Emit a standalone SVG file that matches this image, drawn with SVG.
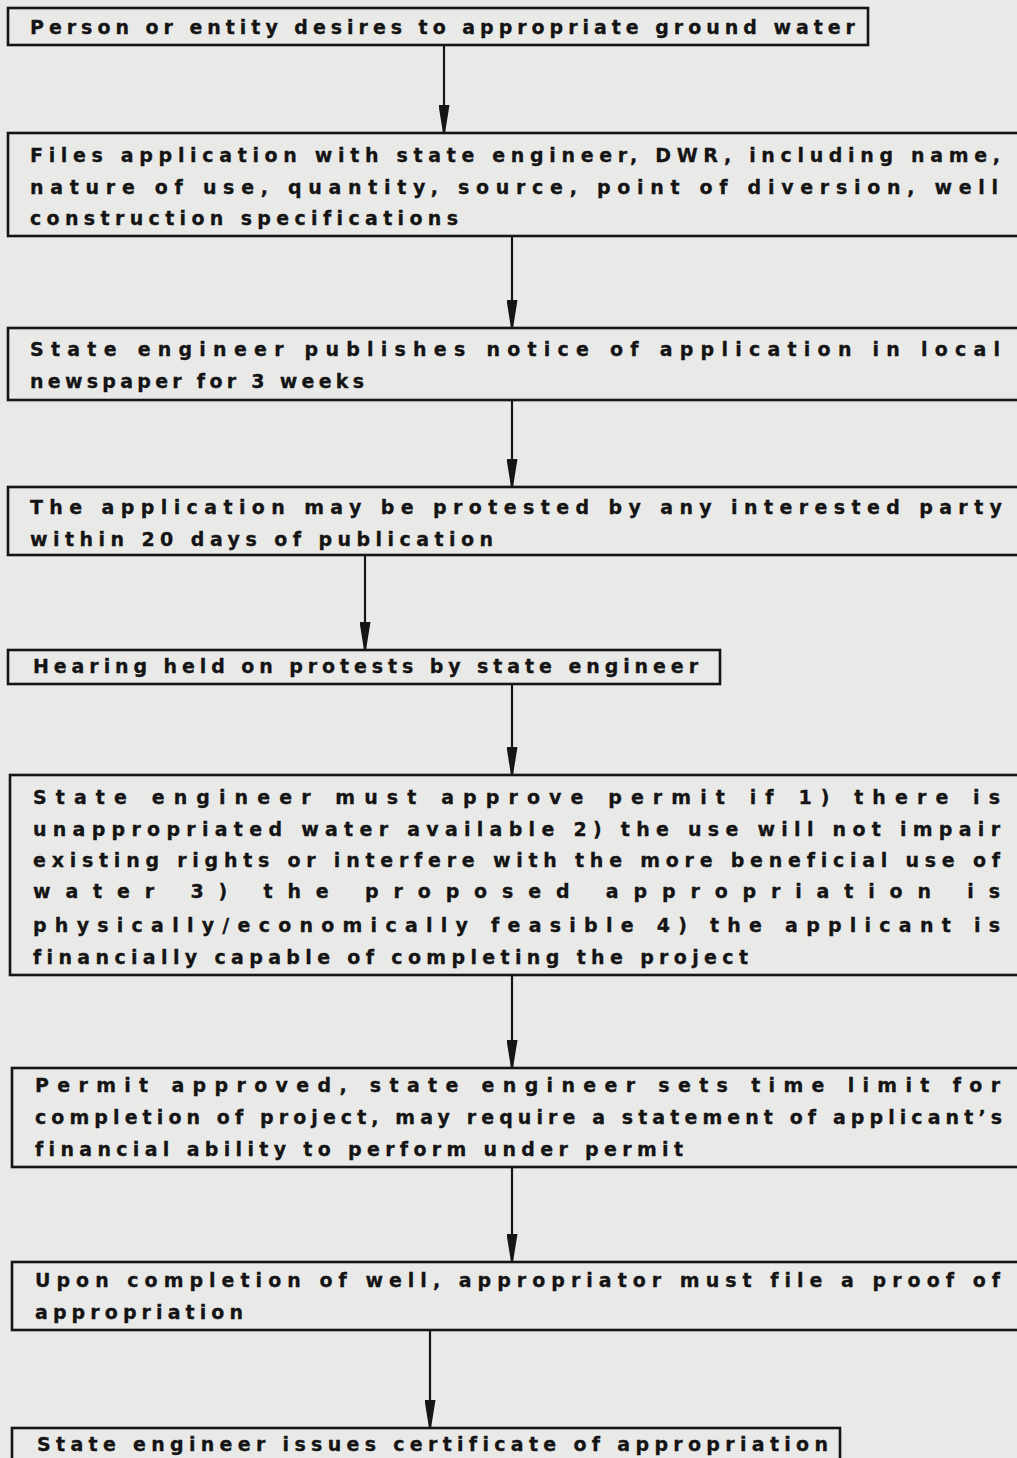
<svg xmlns="http://www.w3.org/2000/svg" width="1017" height="1458" viewBox="0 0 1017 1458">
  <style>
    .box { fill: #e9e9e8; stroke: #151515; stroke-width: 2.6; }
    .t { font-family: "DejaVu Sans", "Liberation Sans", sans-serif; font-weight: bold; font-size: 19px; fill: #141414; stroke: #141414; stroke-width: 0.3; font-variant-ligatures: none; }
    .link { stroke: #151515; stroke-width: 2.2; fill: none; marker-end: url(#head); }
  </style>
  <defs>
    <!-- long narrow arrowhead, tip lands on the next box's top edge -->
    <marker id="head" markerUnits="userSpaceOnUse" markerWidth="28" markerHeight="11" refX="28" refY="5.5" orient="auto" viewBox="0 0 28 11">
      <path d="M0,0 L28,4.5 L28,6.5 L0,11 Z" fill="#151515" />
    </marker>
  </defs>
  <rect width="1017" height="1458" fill="#e9e9e8" />

  <g id="connectors">
    <line class="link" x1="444" y1="45" x2="444" y2="133" />
    <line class="link" x1="512" y1="236" x2="512" y2="328" />
    <line class="link" x1="512" y1="400" x2="512" y2="487" />
    <line class="link" x1="365" y1="555" x2="365" y2="650" />
    <line class="link" x1="512" y1="684" x2="512" y2="775" />
    <line class="link" x1="512" y1="975" x2="512" y2="1068" />
    <line class="link" x1="512" y1="1167" x2="512" y2="1262" />
    <line class="link" x1="430" y1="1330" x2="430" y2="1428" />
  </g>

  <g id="n1">
    <rect class="box" x="8" y="8" width="860" height="37" />
    <text class="t" x="30" y="34" textLength="825" lengthAdjust="spacing">Person or entity desires to appropriate ground water</text>
  </g>

  <g id="n2">
    <rect class="box" x="8" y="133" width="1020" height="103" />
    <text class="t" x="30" y="162" textLength="970" lengthAdjust="spacing">Files application with state engineer, DWR, including name,</text>
    <text class="t" x="30" y="194" textLength="968" lengthAdjust="spacing">nature of use, quantity, source, point of diversion, well</text>
    <text class="t" x="30" y="225" textLength="428" lengthAdjust="spacing">construction specifications</text>
  </g>

  <g id="n3">
    <rect class="box" x="8" y="328" width="1020" height="72" />
    <text class="t" x="30" y="356" textLength="970" lengthAdjust="spacing">State engineer publishes notice of application in local</text>
    <text class="t" x="30" y="388" textLength="334" lengthAdjust="spacing">newspaper for 3 weeks</text>
  </g>

  <g id="n4">
    <rect class="box" x="8" y="487" width="1020" height="68" />
    <text class="t" x="30" y="514" textLength="972" lengthAdjust="spacing">The application may be protested by any interested party</text>
    <text class="t" x="30" y="546" textLength="463" lengthAdjust="spacing">within 20 days of publication</text>
  </g>

  <g id="n5">
    <rect class="box" x="8" y="650" width="712" height="34" />
    <text class="t" x="33" y="673" textLength="665" lengthAdjust="spacing">Hearing held on protests by state engineer</text>
  </g>

  <g id="n6">
    <rect class="box" x="10" y="775" width="1018" height="200" />
    <text class="t" x="33" y="804" textLength="967" lengthAdjust="spacing">State engineer must approve permit if 1) there is</text>
    <text class="t" x="33" y="836" textLength="967" lengthAdjust="spacing">unappropriated water available 2) the use will not impair</text>
    <text class="t" x="33" y="867" textLength="967" lengthAdjust="spacing">existing rights or interfere with the more beneficial use of</text>
    <text class="t" x="33" y="898" textLength="967" lengthAdjust="spacing">water 3) the proposed appropriation is</text>
    <text class="t" x="33" y="932" textLength="967" lengthAdjust="spacing">physically/economically feasible 4) the applicant is</text>
    <text class="t" x="33" y="964" textLength="715" lengthAdjust="spacing">financially capable of completing the project</text>
  </g>

  <g id="n7">
    <rect class="box" x="12" y="1068" width="1016" height="99" />
    <text class="t" x="35" y="1092" textLength="965" lengthAdjust="spacing">Permit approved, state engineer sets time limit for</text>
    <text class="t" x="35" y="1124" textLength="967" lengthAdjust="spacing">completion of project, may require a statement of applicant’s</text>
    <text class="t" x="35" y="1156" textLength="648" lengthAdjust="spacing">financial ability to perform under permit</text>
  </g>

  <g id="n8">
    <rect class="box" x="12" y="1262" width="1016" height="68" />
    <text class="t" x="35" y="1287" textLength="965" lengthAdjust="spacing">Upon completion of well, appropriator must file a proof of</text>
    <text class="t" x="35" y="1319" textLength="208" lengthAdjust="spacing">appropriation</text>
  </g>

  <g id="n9">
    <rect class="box" x="12" y="1428" width="828" height="40" />
    <text class="t" x="37" y="1451" textLength="791" lengthAdjust="spacing">State engineer issues certificate of appropriation</text>
  </g>
</svg>
